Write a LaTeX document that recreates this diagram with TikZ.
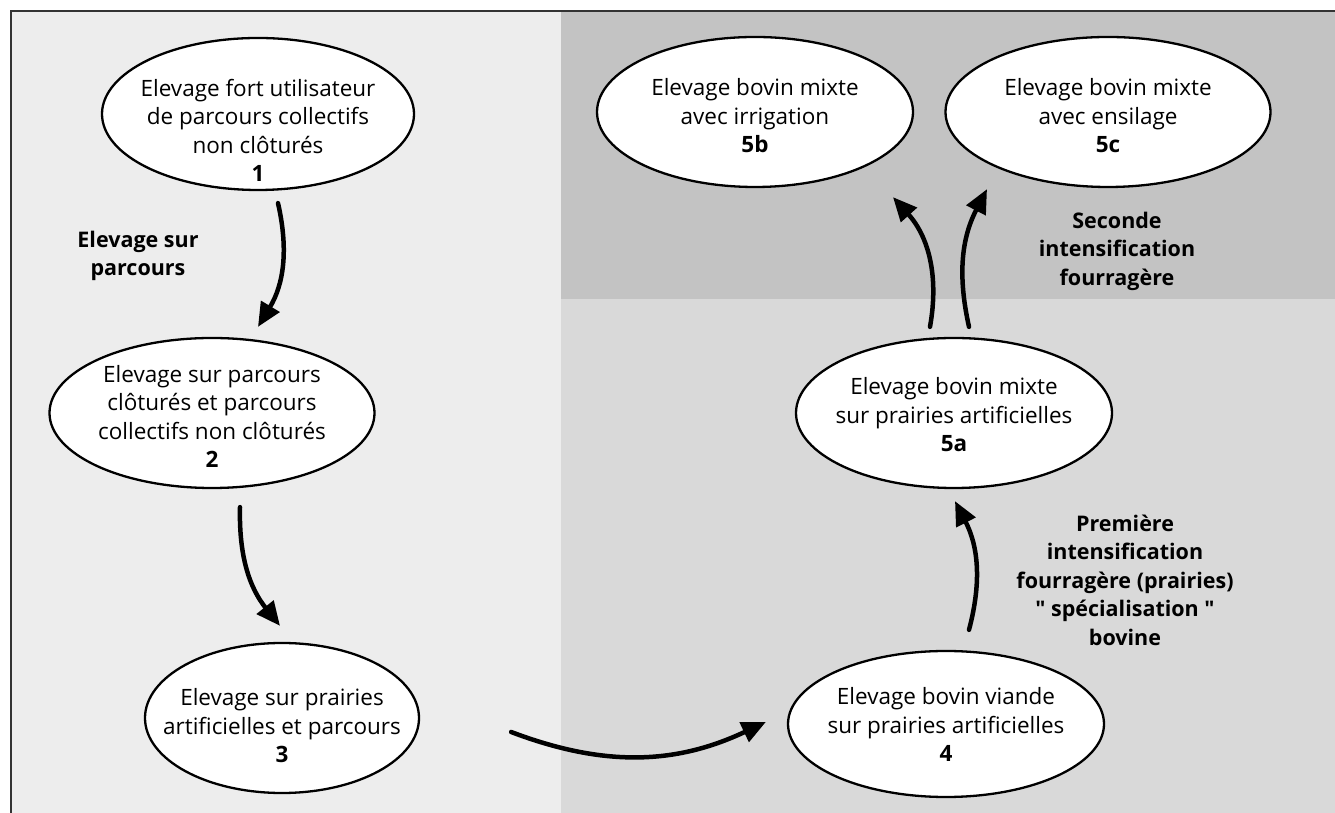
\documentclass[tikz,border=0pt]{standalone}
\usepackage{fontspec}
\setmainfont{Open Sans}[Ligatures=TeXOff]
\usetikzlibrary{arrows.meta,shapes.geometric}
\definecolor{panelL}{HTML}{EDEDED}
\definecolor{panelT}{HTML}{C3C3C3}
\definecolor{panelB}{HTML}{D9D9D9}
\definecolor{framec}{HTML}{333333}
\newcommand\ctext[2]{\makebox[0pt]{\raisebox{\dimexpr -#1pt - 5.6pt\relax}[0pt][0pt]{\begin{tabular}{@{}c@{}}#2\end{tabular}}}}
\begin{document}
\begin{tikzpicture}[x=1pt,y=1pt,
 ell/.style={ellipse, draw=black, line width=2.3pt, fill=white, inner sep=0pt, font=\fontsize{22.5}{28.5}\selectfont},
 lab/.style={align=center, font=\bfseries\fontsize{21.5}{28.5}\selectfont, inner sep=0pt},
 arr/.style={line width=4.5pt, line cap=round, -{Triangle[length=24pt,width=21pt]}}]
\useasboundingbox (0,0) rectangle (1335,813);
\fill[white] (0,0) rectangle (1335,813);
\fill[panelL] (11,0) rectangle (561,802);
\fill[panelT] (561,514) rectangle (1335,802);
\fill[panelB] (561,0) rectangle (1335,514);
\draw[framec, line width=1.3pt] (11,0) -- (11,802) -- (1335,802);

\node[ell, minimum width=312pt, minimum height=152pt] (e1) at (258,699) {\ctext{19}{Elevage fort utilisateur\\de parcours collectifs\\non clôturés\\\textbf{1}}};
\node[ell, minimum width=325pt, minimum height=150pt] (e2) at (212,400) {\ctext{6}{Elevage sur parcours\\clôturés et parcours\\collectifs non clôturés\\\textbf{2}}};
\node[ell, minimum width=274pt, minimum height=150pt] (e3) at (282,95) {\ctext{10}{Elevage sur prairies\\artificielles et parcours\\\textbf{3}}};
\node[ell, minimum width=316pt, minimum height=146pt] (e4) at (946,89) {\ctext{3}{Elevage bovin viande\\sur prairies artificielles\\\textbf{4}}};
\node[ell, minimum width=316pt, minimum height=150pt] (e5a) at (954,400) {\ctext{4}{Elevage bovin mixte\\sur prairies artificielles\\\textbf{5a}}};
\node[ell, minimum width=316pt, minimum height=150pt] (e5b) at (755,701) {\ctext{6}{Elevage bovin mixte\\avec irrigation\\\textbf{5b}}};
\node[ell, minimum width=325pt, minimum height=150pt] (e5c) at (1108,701) {\ctext{6}{Elevage bovin mixte\\avec ensilage\\\textbf{5c}}};

\node[lab] (l1) at (138,557) {Elevage sur\\parcours};
\node[lab] (l2) at (1117,562) {Seconde\\intensification\\fourragère};
\node[lab] (l3) at (1125,233) {Première\\intensification\\fourragère (prairies)\\" spécialisation "\\bovine};

\draw[arr] ([shift={(20,-12)}]e1.south) to[bend left=22] ([shift={(46,10)}]e2.north);
\draw[arr] ([shift={(28,-18)}]e2.south) to[bend right=20] ([shift={(-2,16)}]e3.north);
\draw[arr] ([shift={(91,-14)}]e3.east) to[bend right=23] ([shift={(-21,2)}]e4.west);
\draw[arr] ([shift={(23,20)}]e4.north) to[bend right=21] ([shift={(1,-12)}]e5a.south);
\draw[arr] ([shift={(-24,10)}]e5a.north) to[bend right=26] ([shift={(138,-9)}]e5b.south);
\draw[arr] ([shift={(15,10)}]e5a.north) to[bend left=20] ([shift={(-121,-1)}]e5c.south);
\end{tikzpicture}
\end{document}
